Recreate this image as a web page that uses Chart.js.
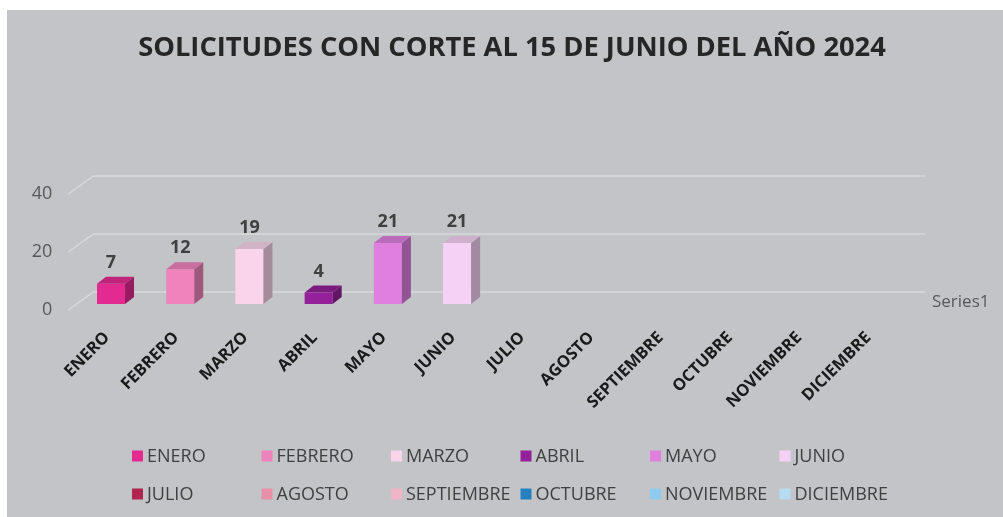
<!DOCTYPE html>
<html lang="es">
<head>
  <meta charset="UTF-8" />
  <title>Solicitudes 2024</title>
  <script src="https://cdn.jsdelivr.net/npm/chart.js"></script>
  <style>
    body {
      margin: 0;
      background: #fff;
      font-family: 'Open Sans', sans-serif;
    }

    .panel {
      position: absolute;
      left: 7px;
      top: 10px;
      width: 996px;
      height: 507px;
      background: #c3c4c7;
    }
  </style>
</head>
<body>
  <div class="panel">
    <canvas id="chart" width="996" height="507"></canvas>
  </div>

  <script>
    const months = ['ENERO', 'FEBRERO', 'MARZO', 'ABRIL', 'MAYO', 'JUNIO',
      'JULIO', 'AGOSTO', 'SEPTIEMBRE', 'OCTUBRE', 'NOVIEMBRE', 'DICIEMBRE'];
    const requests = [7, 12, 19, 4, 21, 21, null, null, null, null, null, null];
    const monthColors = ['#e32a91', '#ef84bd', '#fad4ea', '#94219a', '#df80df', '#f5d2f5',
      '#b0254f', '#e88fa8', '#efb4c6', '#2580c0', '#8ecbef', '#b7dcf1'];
    const yTicks = [0, 20, 40];
    const seriesName = 'Series1';
    const chartTitle = 'SOLICITUDES CON CORTE AL 15 DE JUNIO DEL AÑO 2024';

    Chart.defaults.font.family = "'Open Sans', sans-serif";

    function shade(hex, f) {
      const n = parseInt(hex.slice(1), 16);
      const r = Math.round(((n >> 16) & 255) * f);
      const g = Math.round(((n >> 8) & 255) * f);
      const b = Math.round((n & 255) * f);
      return `rgb(${r},${g},${b})`;
    }

    // perspective floor / back wall lines
    const wallPlugin = {
      id: 'wall',
      beforeDatasetsDraw(chart) {
        const { ctx, chartArea } = chart;
        const y = chart.scales.y;
        ctx.save();
        ctx.strokeStyle = '#d9d9da';
        ctx.lineWidth = 1.5;
        yTicks.forEach(v => {
          const py = y.getPixelForValue(v);
          ctx.beginPath();
          ctx.moveTo(chartArea.left - 8, py + 6);
          ctx.lineTo(chartArea.left + 17, py - 12);
          ctx.lineTo(chartArea.right + 18, py - 12);
          ctx.stroke();
        });
        ctx.restore();
      }
    };

    // title, 3d sides, tops, value labels, series name and legend
    const extrasPlugin = {
      id: 'extras',
      afterDatasetsDraw(chart) {
        const { ctx, chartArea } = chart;
        const meta = chart.getDatasetMeta(0);
        const dx = 9, dy = -7;
        ctx.save();

        ctx.fillStyle = '#262626';
        ctx.font = "bold 27.3px 'Open Sans'";
        ctx.textAlign = 'center';
        ctx.textBaseline = 'middle';
        ctx.fillText(chartTitle, 505, 38);

        meta.data.forEach((bar, i) => {
          if (requests[i] == null) return;
          const left = bar.x - bar.width / 2;
          const right = bar.x + bar.width / 2;
          const top = bar.y;
          const bottom = bar.base;
          const c = monthColors[i];

          ctx.fillStyle = shade(c, 0.66);
          ctx.beginPath();
          ctx.moveTo(right, top);
          ctx.lineTo(right + dx, top + dy);
          ctx.lineTo(right + dx, bottom + dy);
          ctx.lineTo(right, bottom);
          ctx.closePath();
          ctx.fill();

          ctx.fillStyle = shade(c, 0.84);
          ctx.beginPath();
          ctx.moveTo(left, top);
          ctx.lineTo(left + dx, top + dy);
          ctx.lineTo(right + dx, top + dy);
          ctx.lineTo(right, top);
          ctx.closePath();
          ctx.fill();

          ctx.fillStyle = '#404040';
          ctx.font = "bold 18px 'Open Sans'";
          ctx.textAlign = 'center';
          ctx.textBaseline = 'middle';
          ctx.fillText(String(requests[i]), bar.x, top - 21);
        });

        const y0 = chart.scales.y.getPixelForValue(0);
        ctx.fillStyle = '#595959';
        ctx.font = "17px 'Open Sans'";
        ctx.textAlign = 'left';
        ctx.textBaseline = 'middle';
        ctx.fillText(seriesName, chartArea.right + 25, y0 - 2);

        // legend, 6 columns x 2 rows
        ctx.font = "18px 'Open Sans'";
        months.forEach((m, i) => {
          const col = i % 6;
          const row = Math.floor(i / 6);
          const bx = 125 + col * 129.5;
          const cy = 446 + row * 38;
          ctx.fillStyle = monthColors[i];
          ctx.fillRect(bx, cy - 5.5, 11, 11);
          ctx.fillStyle = '#404040';
          ctx.fillText(m, bx + 15, cy + 1);
        });
        ctx.restore();
      }
    };

    new Chart(document.getElementById('chart'), {
      type: 'bar',
      data: {
        labels: months,
        datasets: [{
          label: seriesName,
          data: requests,
          backgroundColor: monthColors,
          borderWidth: 0,
          categoryPercentage: 1,
          barPercentage: 0.405
        }]
      },
      options: {
        responsive: false,
        animation: false,
        layout: { padding: { left: 0, right: 96, top: 178, bottom: 0 } },
        plugins: {
          legend: { display: false },
          tooltip: { enabled: false },
          title: { display: false }
        },
        scales: {
          x: {
            grid: { display: false, drawTicks: false },
            border: { display: false },
            ticks: {
              autoSkip: false,
              minRotation: 45,
              maxRotation: 45,
              padding: 24,
              labelOffset: -4,
              color: '#1a1a1a',
              font: { size: 16.5, weight: 'bold' }
            },
            afterFit(scale) { scale.height = 213; }
          },
          y: {
            min: 0,
            max: 40,
            grid: { display: false, drawTicks: false },
            border: { display: false },
            ticks: {
              stepSize: 20,
              padding: 24,
              labelOffset: 6,
              color: '#595959',
              font: { size: 18 }
            },
            afterFit(scale) { scale.width = 69.4; }
          }
        }
      },
      plugins: [wallPlugin, extrasPlugin]
    });
  </script>
</body>
</html>
